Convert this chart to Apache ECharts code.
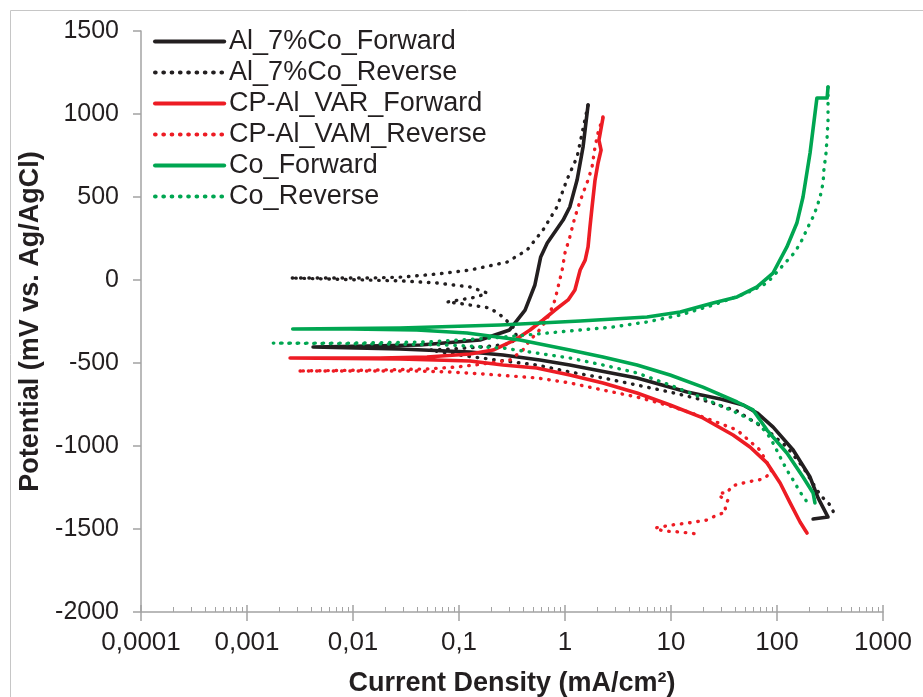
<!DOCTYPE html>
<html>
<head>
<meta charset="utf-8">
<script src="https://cdn.jsdelivr.net/npm/echarts@6/dist/echarts.min.js"></script>
<style>
  html, body { margin: 0; padding: 0; background: #ffffff; }
  #chart { width: 923px; height: 697px; }
</style>
</head>
<body>
<div id="chart"></div>
<script>
// Potentiodynamic polarization curves: current density (mA/cm²) vs potential (mV vs. Ag/AgCl)

const seriesNames = [
  'Al_7%Co_Forward', 'Al_7%Co_Reverse',
  'CP-Al_VAR_Forward', 'CP-Al_VAM_Reverse',
  'Co_Forward', 'Co_Reverse'
];

// Al_7%Co forward scan
const alFwdI = [219, 303, 244, 205, 142, 92, 65, 48, 30, 14.2, 4.78, 1.11, 0.58, 0.26, 0.127, 0.0277, 0.0042,
  0.043, 0.158, 0.30, 0.42, 0.52, 0.59, 0.68, 0.96, 1.11, 1.30, 1.48, 1.65];
const alFwdE = [-1440, -1428, -1313, -1187, -1024, -886, -801, -753, -718, -675, -590, -512, -482, -452, -434, -416, -404,
  -392, -361, -301, -181, -30, 139, 223, 361, 440, 602, 801, 1054];

// Al_7%Co reverse scan
const alRevI = [1.65, 1.30, 1.04, 0.84, 0.62, 0.44, 0.284, 0.127, 0.062, 0.0297, 0.0144, 0.0061, 0.00255,
  0.0297, 0.062, 0.127, 0.184, 0.148, 0.077, 0.096, 0.127, 0.196, 0.26, 0.323, 0.352, 0.303, 0.158, 0.082, 0.053,
  0.077, 0.136, 0.27, 0.54, 1.11, 2.28, 4.78, 9.8, 20, 42, 80.5, 124, 176, 238, 272, 316, 352];
const alRevE = [1054, 741, 602, 440, 301, 181, 108, 60, 36, 18, 12, 12, 12,
  -6, -18, -42, -78, -102, -133, -139, -151, -169, -223, -283, -343, -386, -404, -416, -422,
  -440, -464, -488, -512, -554, -590, -633, -675, -723, -789, -904, -1006, -1127, -1265, -1313, -1355, -1416];

// CP-Al VAR forward scan
const cpFwdI = [192, 184, 165, 133, 107, 80.5, 55.6, 38.5, 20, 9.8, 4.78, 2.28, 1.11, 0.54, 0.26, 0.127, 0.0277, 0.00255,
  0.018, 0.0499, 0.127, 0.21, 0.337, 0.468, 0.62, 0.805, 1.07, 1.24, 1.39, 1.55, 1.65, 1.72, 1.80, 1.92, 2.05, 2.19, 2.09, 2.28];
const cpFwdE = [-1524, -1506, -1458, -1343, -1223, -1102, -1006, -934, -831, -753, -681, -620, -572, -530, -512, -488, -476, -470,
  -470, -464, -446, -422, -361, -301, -241, -181, -120, -60, 60, 120, 199, 319, 440, 602, 705, 783, 843, 976];

// CP-Al VAM reverse scan
const cpRevI = [2.28, 2.05, 1.92, 1.80, 1.65, 1.48, 1.33, 1.22, 1.11, 1.00, 0.94, 0.86, 0.805, 0.72, 0.65, 0.556, 0.468, 0.40,
  0.303, 0.168, 0.096, 0.0499, 0.018, 0.0030, 0.040, 0.082, 0.168, 0.303, 0.54, 1.11, 2.28, 4.78, 9.8, 20, 42, 69, 90,
  74, 52, 37.6, 33.8, 28.4, 29.6, 34.5, 32.3, 32.9, 27.2, 21.9, 14.5, 10.2, 7.06, 8.4, 12.2, 17.6];
const cpRevE = [982, 886, 801, 681, 602, 524, 440, 361, 259, 163, 60, -42, -120, -199, -253, -313, -361, -422,
  -482, -506, -524, -536, -542, -548, -548, -554, -566, -578, -590, -620, -663, -705, -759, -825, -904, -1024, -1157,
  -1199, -1217, -1241, -1283, -1283, -1307, -1325, -1361, -1398, -1416, -1446, -1464, -1476, -1494, -1512, -1518, -1530];

// Co forward scan
const coFwdI = [228, 219, 176, 124, 80.5, 59.4, 42, 20, 9.8, 4.78, 2.28, 1.11, 0.376, 0.119, 0.040, 0.0094, 0.0027,
  0.0277, 0.244, 1.39, 5.94, 12.2, 24.9, 42, 64.8, 91.7, 124, 154, 176, 205, 238, 297, 303];
const coFwdE = [-1343, -1283, -1187, -1042, -904, -783, -735, -645, -572, -512, -464, -422, -361, -319, -301, -295, -295,
  -289, -271, -247, -223, -193, -139, -102, -42, 42, 199, 343, 500, 765, 1096, 1096, 1163];

// Co reverse scan
const coRevI = [303, 303, 303, 297, 290, 277, 272, 255, 238, 219, 196, 172, 148, 119, 100, 80.5, 52, 24.9, 12.2, 5.94,
  2.84, 1.39, 0.44, 0.21, 0.0499, 0.0094, 0.00176, 0.0277, 0.082, 0.26, 0.54, 1.11, 2.28, 4.78, 9.8, 20, 42, 64.8,
  80.5, 91.7, 107, 124, 142, 165, 192];
const coRevE = [1163, 1066, 964, 861, 765, 663, 584, 500, 440, 380, 319, 241, 169, 102, 48, -18, -78, -151, -211, -253,
  -283, -301, -331, -349, -373, -380, -380, -386, -392, -410, -440, -470, -512, -560, -633, -711, -801, -861,
  -922, -982, -1066, -1145, -1205, -1277, -1337];

// Axis ticks
const xTickValues = [0.0001, 0.001, 0.01, 0.1, 1, 10, 100, 1000];
const xTickLabels = ['0,0001', '0,001', '0,01', '0,1', '1', '10', '100', '1000'];
const xMinorSteps = [2, 3, 4, 5, 6, 7, 8, 9];

const BLACK = '#231f20', RED = '#ed1c24', GREEN = '#00a651';
const AXIS_GRAY = '#a3a3a3';
const FONT = '"Liberation Sans", Arial, sans-serif';

const xMinorValues = [];
xTickValues.slice(0, -1).forEach(d => xMinorSteps.forEach(m => xMinorValues.push(d * m)));

function pairs(I, E) { return I.map((v, i) => [v, E[i]]); }

function curve(name, I, E, color, dotted) {
  return {
    name: name,
    type: 'line',
    xAxisIndex: 0,
    yAxisIndex: 0,
    data: pairs(I, E),
    symbol: 'none',
    showSymbol: false,
    smooth: false,
    animation: false,
    itemStyle: { color: color },
    lineStyle: dotted
      ? { color: color, width: 3.4, type: [0.5, 7.8], cap: 'round', join: 'round' }
      : { color: color, width: 3.6, type: 'solid', cap: 'round', join: 'round' }
  };
}

function xLabel(v) {
  const k = Math.round(Math.log10(v)) + 4;
  return xTickLabels[k] !== undefined ? xTickLabels[k] : '';
}

const logAxisBase = {
  type: 'log',
  logBase: 10,
  min: 0.0001,
  max: 1000,
  gridIndex: 0,
  position: 'bottom',
  splitLine: { show: false },
  minorTick: { show: false },
  minorSplitLine: { show: false }
};

const chart = echarts.init(document.getElementById('chart'), null, { renderer: 'canvas' });

chart.setOption({
  animation: false,
  backgroundColor: '#ffffff',
  grid: { left: 141, right: 40, top: 31, bottom: 85, containLabel: false, outerBoundsMode: 'none' },
  graphic: [{
    type: 'rect',
    shape: { x: 10.5, y: 10.5, width: 1000, height: 1000 },
    style: { fill: 'none', stroke: '#c6c6c6', lineWidth: 1 },
    silent: true,
    z: -10
  }],
  legend: {
    data: seriesNames,
    orient: 'vertical',
    left: 153,
    top: 28,
    padding: 0,
    itemWidth: 69,
    itemHeight: 14,
    itemGap: 4,
    itemStyle: { opacity: 0 },
    lineStyle: { width: 4.2 },
    textStyle: { fontFamily: FONT, fontSize: 27, color: BLACK, lineHeight: 27 },
    selectedMode: false
  },
  xAxis: [
    Object.assign({}, logAxisBase, {
      name: 'Current Density (mA/cm²)',
      nameLocation: 'middle',
      nameGap: 58,
      nameTextStyle: { fontFamily: FONT, fontSize: 27, fontWeight: 'bold', color: BLACK },
      axisLine: { show: true, onZero: false, lineStyle: { color: AXIS_GRAY, width: 1.5 } },
      axisTick: { show: true, inside: false, length: 9, customValues: xTickValues, lineStyle: { color: AXIS_GRAY, width: 1.5 } },
      axisLabel: { show: true, customValues: xTickValues, margin: 18, formatter: xLabel,
        fontFamily: FONT, fontSize: 26, color: BLACK }
    }),
    Object.assign({}, logAxisBase, {
      axisLine: { show: false, onZero: false },
      axisTick: { show: true, inside: true, length: 7, customValues: xTickValues, lineStyle: { color: AXIS_GRAY, width: 1.5 } },
      axisLabel: { show: false }
    }),
    Object.assign({}, logAxisBase, {
      axisLine: { show: false, onZero: false },
      axisTick: { show: true, inside: true, length: 5, customValues: xMinorValues, lineStyle: { color: AXIS_GRAY, width: 1 } },
      axisLabel: { show: false }
    })
  ],
  yAxis: {
    type: 'value',
    min: -2000,
    max: 1500,
    interval: 500,
    name: 'Potential (mV vs. Ag/AgCl)',
    nameLocation: 'middle',
    nameGap: 87,
    nameTextStyle: { fontFamily: FONT, fontSize: 27, fontWeight: 'bold', color: BLACK },
    splitLine: { show: false },
    axisLine: { show: true, onZero: false, lineStyle: { color: AXIS_GRAY, width: 1.5 } },
    axisTick: { show: true, inside: false, length: 8, lineStyle: { color: AXIS_GRAY, width: 1.5 } },
    axisLabel: { margin: 22, fontFamily: FONT, fontSize: 25, color: BLACK, formatter: v => String(v) }
  },
  series: [
    curve(seriesNames[0], alFwdI, alFwdE, BLACK, false),
    curve(seriesNames[1], alRevI, alRevE, BLACK, true),
    curve(seriesNames[2], cpFwdI, cpFwdE, RED, false),
    curve(seriesNames[3], cpRevI, cpRevE, RED, true),
    curve(seriesNames[4], coFwdI, coFwdE, GREEN, false),
    curve(seriesNames[5], coRevI, coRevE, GREEN, true)
  ]
});
</script>
</body>
</html>
